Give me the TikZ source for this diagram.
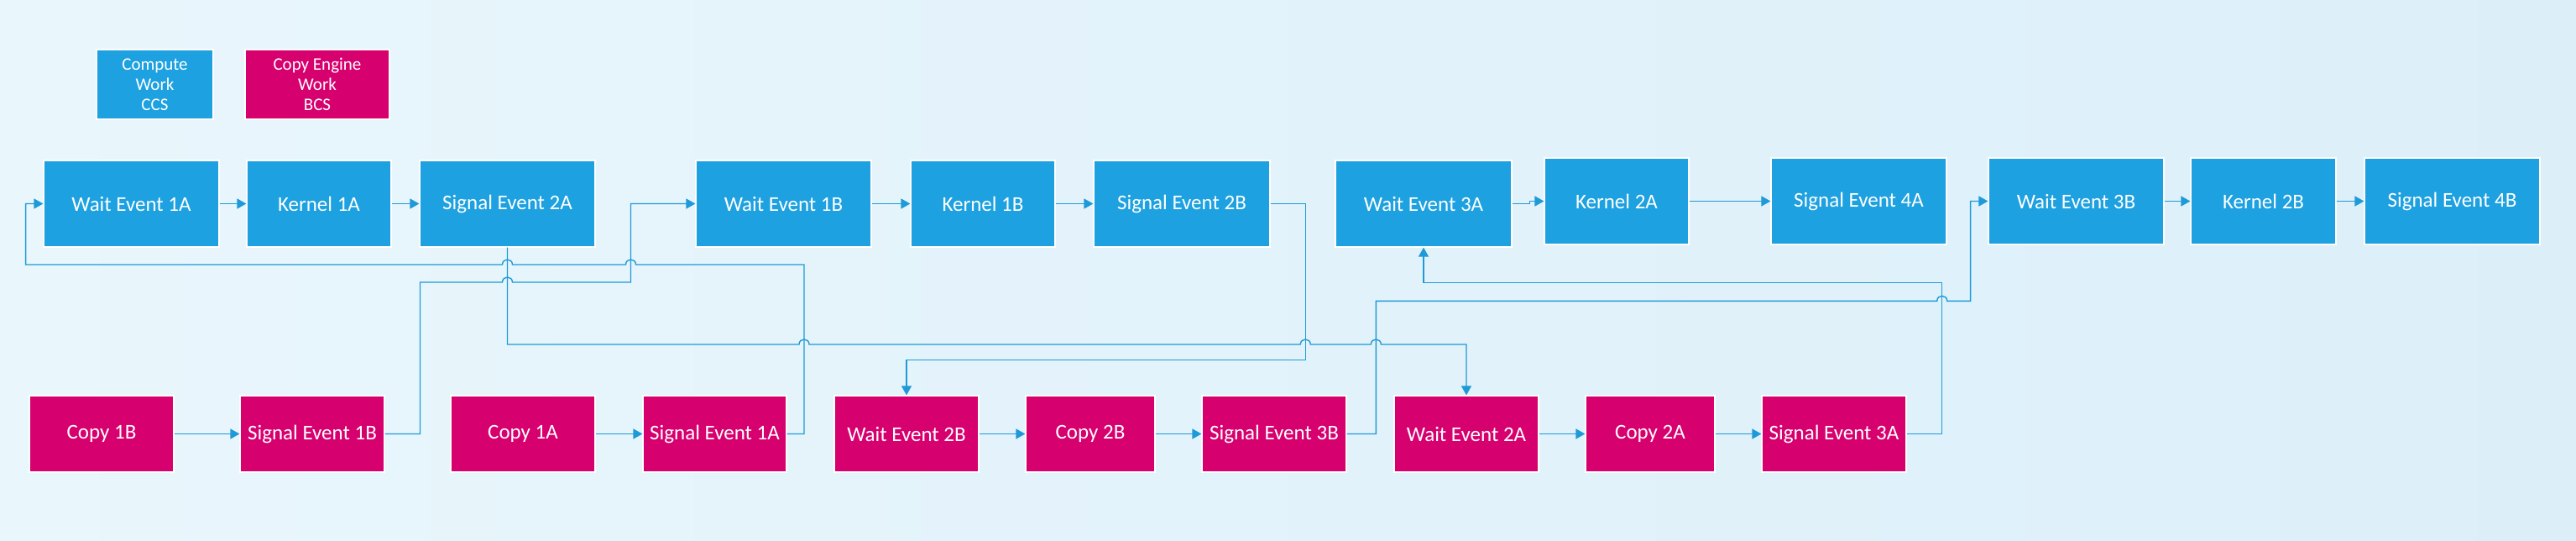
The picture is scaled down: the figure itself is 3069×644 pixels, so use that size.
\documentclass[tikz,border=0pt]{standalone}
\usepackage{fontspec}
\setmainfont{Carlito}
\usetikzlibrary{arrows.meta}
\definecolor{ccs}{HTML}{1DA1E0}
\definecolor{bcs}{HTML}{D7006F}
\definecolor{wire}{HTML}{1E9AD8}
\definecolor{bgA}{HTML}{E9F6FC}
\definecolor{bgB}{HTML}{DCEFF9}
\begin{document}
\begin{tikzpicture}[x=1pt,y=-1pt,
  box/.style={draw=white, line width=1.2pt, inner sep=0pt, text=white, align=center, font=\fontsize{25}{30}\selectfont},
  ctop/.style={box, fill=ccs, minimum height=103pt},
  bbot/.style={box, fill=bcs, minimum height=91pt},
  wd/.style={minimum width=#1},
  legend/.style={font=\fontsize{21}{24}\selectfont, minimum height=83pt},
  conn/.style={draw=wire, line width=1.4pt, -{Triangle[length=11pt,width=12pt]}},
  ]
\shade[left color=bgA, right color=bgB] (0,0) rectangle (3069,644);
\useasboundingbox (0,0) rectangle (3069,644);

% legend
\node[box, fill=ccs, legend, wd=139pt] (lc) at (184.5,100.5) {Compute\\Work\\CCS};
\node[box, fill=bcs, legend, wd=172pt] (lb) at (378,100.5) {Copy Engine\\Work\\BCS};

% top row (CCS)
\node[ctop, wd=209pt] (we1a) at (156.5,242.5) {Wait Event 1A};
\node[ctop, wd=172pt] (k1a)  at (380,242.5) {Kernel 1A};
\node[ctop, wd=209pt] (se2a) at (604.5,242.5) {Signal Event 2A};
\node[ctop, wd=209pt] (we1b) at (933.5,242.5) {Wait Event 1B};
\node[ctop, wd=172pt] (k1b)  at (1171,242.5) {Kernel 1B};
\node[ctop, wd=210pt] (se2b) at (1408,242.5) {Signal Event 2B};
\node[ctop, wd=210pt] (we3a) at (1696,242.5) {Wait Event 3A};
\node[ctop, wd=172pt] (k2a)  at (1926,239.5) {Kernel 2A};
\node[ctop, wd=209pt] (se4a) at (2214.5,239.5) {Signal Event 4A};
\node[ctop, wd=209pt] (we3b) at (2473.5,239.5) {Wait Event 3B};
\node[ctop, wd=173pt] (k2b)  at (2696.5,239.5) {Kernel 2B};
\node[ctop, wd=209pt] (se4b) at (2921.5,239.5) {Signal Event 4B};

% bottom row (BCS)
\node[bbot, wd=172pt] (c1b)  at (121,516.5) {Copy 1B};
\node[bbot, wd=172pt] (se1b) at (372,516.5) {Signal Event 1B};
\node[bbot, wd=172pt] (c1a)  at (623,516.5) {Copy 1A};
\node[bbot, wd=171pt] (se1a) at (851.5,516.5) {Signal Event 1A};
\node[bbot, wd=172pt] (we2b) at (1080,516.5) {Wait Event 2B};
\node[bbot, wd=154pt] (c2b)  at (1299,516.5) {Copy 2B};
\node[bbot, wd=172pt] (se3b) at (1518,516.5) {Signal Event 3B};
\node[bbot, wd=172pt] (we2a) at (1747,516.5) {Wait Event 2A};
\node[bbot, wd=154pt] (c2a)  at (1966,516.5) {Copy 2A};
\node[bbot, wd=172pt] (se3a) at (2185,516.5) {Signal Event 3A};

% chains
\draw[conn] (we1a) -- (k1a);
\draw[conn] (k1a) -- (se2a);
\draw[conn] (we1b) -- (k1b);
\draw[conn] (k1b) -- (se2b);
\draw[conn] (we3a.east) -- ++(21,0) |- (k2a.west);
\draw[conn] (k2a) -- (se4a);
\draw[conn] (we3b) -- (k2b);
\draw[conn] (k2b) -- (se4b);
\draw[conn] (c1b) -- (se1b);
\draw[conn] (c1a) -- (se1a);
\draw[conn] (we2b) -- (c2b);
\draw[conn] (c2b) -- (se3b);
\draw[conn] (we2a) -- (c2a);
\draw[conn] (c2a) -- (se3a);

% cross connectors (with line jumps)
\draw[conn] (se1a.east) -| (958,315) -- (757.5,315)
  .. controls (757.5,307) and (745.5,307) .. (745.5,315) -- (610.5,315)
  .. controls (610.5,307) and (598.5,307) .. (598.5,315) -- (30.6,315) |- (we1a.west);
\draw[conn] (se1b.east) -| (500.5,336) -- (598.5,336)
  .. controls (598.5,328) and (610.5,328) .. (610.5,336) -- (751.5,336) |- (we1b.west);
\draw[conn] (se2a.south) |- (952,410)
  .. controls (952,402) and (964,402) .. (964,410) -- (1549.3,410)
  .. controls (1549.3,402) and (1561.3,402) .. (1561.3,410) -- (1633.3,410)
  .. controls (1633.3,402) and (1645.3,402) .. (1645.3,410) -| (we2a.north);
\draw[conn] (se2b.east) -| (1555.3,428.3) -| (we2b.north);
\draw[conn] (se3b.east) -| (1639.3,358.3) -- (2307.7,358.3)
  .. controls (2307.7,350.3) and (2319.7,350.3) .. (2319.7,358.3) -- (2347.6,358.3) |- (we3b.west);
\draw[conn] (se3a.east) -| (2313.7,336.3) -| (we3a.south);
\end{tikzpicture}
\end{document}
